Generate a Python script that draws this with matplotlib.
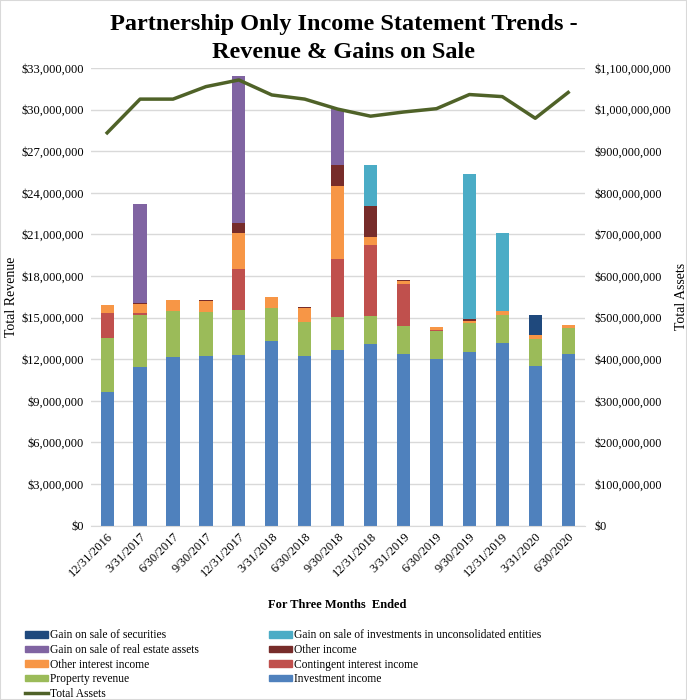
import matplotlib.pyplot as plt
from matplotlib.ticker import FuncFormatter, MultipleLocator
from matplotlib.patches import Patch
from matplotlib.lines import Line2D
import numpy as np

plt.rcParams['font.family'] = ['Liberation Serif', 'DejaVu Serif']

quarters = ['12/31/2016', '3/31/2017', '6/30/2017', '9/30/2017', '12/31/2017',
            '3/31/2018', '6/30/2018', '9/30/2018', '12/31/2018', '3/31/2019',
            '6/30/2019', '9/30/2019', '12/31/2019', '3/31/2020', '6/30/2020']

# revenue components, in $ millions (stacked bottom to top)
investment_income = [9.64, 11.45, 12.18, 12.25, 12.32, 13.34, 12.25, 12.69, 13.12, 12.40, 12.03, 12.54, 13.15, 11.53, 12.40]
property_revenue = [3.92, 3.73, 3.27, 3.17, 3.20, 2.33, 2.40, 2.32, 2.03, 1.99, 2.03, 2.06, 2.03, 1.91, 1.86]
contingent_interest = [1.74, 0.12, 0.05, 0.0, 2.98, 0.0, 0.0, 4.21, 5.08, 3.03, 0.05, 0.0, 0.0, 0.0, 0.0]
other_interest = [0.58, 0.66, 0.75, 0.75, 2.61, 0.79, 1.04, 5.26, 0.58, 0.22, 0.22, 0.15, 0.27, 0.29, 0.20]
other_income = [0.0, 0.07, 0.0, 0.08, 0.73, 0.0, 0.07, 1.50, 2.25, 0.07, 0.0, 0.14, 0.0, 0.0, 0.0]
gain_real_estate = [0.0, 7.19, 0.0, 0.0, 10.61, 0.0, 0.0, 4.04, 0.0, 0.0, 0.0, 0.0, 0.0, 0.0, 0.0]
gain_unconsolidated = [0.0, 0.0, 0.0, 0.0, 0.0, 0.0, 0.0, 0.0, 2.91, 0.0, 0.0, 10.44, 5.66, 0.0, 0.0]
gain_securities = [0.0, 0.0, 0.0, 0.0, 0.0, 0.0, 0.0, 0.0, 0.0, 0.0, 0.0, 0.0, 0.0, 1.43, 0.0]

# total assets, in $ millions
total_assets = [944, 1025, 1025, 1055, 1071, 1035, 1025, 1001, 984, 994, 1002, 1036, 1031, 979, 1041]

series = [
    ('Investment income', investment_income, '#4F81BD'),
    ('Property revenue', property_revenue, '#9BBB59'),
    ('Contingent interest income', contingent_interest, '#C0504D'),
    ('Other interest income', other_interest, '#F79646'),
    ('Other income', other_income, '#772C2A'),
    ('Gain on sale of real estate assets', gain_real_estate, '#8064A2'),
    ('Gain on sale of investments in unconsolidated entities', gain_unconsolidated, '#4BACC6'),
    ('Gain on sale of securities', gain_securities, '#1F497D'),
]
colors = {name: c for name, _, c in series}

fig = plt.figure(figsize=(6.87, 7.0), dpi=100)
ax = fig.add_axes([0.132, 0.249, 0.719, 0.654])
x = np.arange(len(quarters))
bottom = np.zeros(len(quarters))
for name, vals, c in series:
    v = np.array(vals) * 1e6
    ax.bar(x, v, 0.4, bottom=bottom, color=c, zorder=2)
    bottom += v

money = FuncFormatter(lambda v, p: '${:,.0f}'.format(v))
ax.set_ylim(0, 33e6)
ax.set_xlim(-0.5, len(quarters) - 0.5)
ax.yaxis.set_major_locator(MultipleLocator(3e6))
ax.yaxis.set_major_formatter(money)
ax.grid(axis='y', color='#D9D9D9', linewidth=1, zorder=0)
ax.set_axisbelow(True)
for s in ['top', 'left', 'right']:
    ax.spines[s].set_visible(False)
ax.spines['bottom'].set_color('#D9D9D9')
ax.tick_params(axis='both', length=0, labelsize=9)
ax.tick_params(axis='y', pad=5)
ax.set_xticks(x)
ax.set_xticklabels(quarters, rotation=45, ha='right', rotation_mode='anchor')
ax.set_ylabel('Total Revenue', fontsize=10, labelpad=2)
ax.set_xlabel('For Three Months  Ended', fontsize=9, fontweight='bold', labelpad=14)

ax2 = ax.twinx()
ax2.plot(x, np.array(total_assets) * 1e6, color='#4F6228', linewidth=2.5, zorder=3)
ax2.set_ylim(0, 1.1e9)
ax2.yaxis.set_major_locator(MultipleLocator(1e8))
ax2.yaxis.set_major_formatter(money)
for s in ['top', 'left', 'right', 'bottom']:
    ax2.spines[s].set_visible(False)
ax2.tick_params(axis='y', length=0, labelsize=8.7, pad=7)
ax2.set_ylabel('Total Assets', fontsize=10, labelpad=3)

fig.suptitle('Partnership Only Income Statement Trends -\nRevenue & Gains on Sale',
             fontsize=17.5, fontweight='bold', y=0.98, linespacing=1.45)

order = ['Gain on sale of securities', 'Gain on sale of real estate assets',
         'Other interest income', 'Property revenue', None,
         'Gain on sale of investments in unconsolidated entities', 'Other income',
         'Contingent interest income', 'Investment income']
handles, labels = [], []
for name in order:
    if name is None:
        handles.append(Line2D([], [], color='#4F6228', linewidth=2.5))
        labels.append('Total Assets')
    else:
        handles.append(Patch(color=colors[name]))
        labels.append(name)
leg = fig.legend(handles, labels, ncol=2, loc='lower left', bbox_to_anchor=(0.03, -0.006),
                 frameon=False, fontsize=8.3, handlelength=2.0, handleheight=0.5,
                 handletextpad=0.15, labelspacing=0.22, columnspacing=6.1, borderaxespad=0)

fig.patches.append(plt.Rectangle((0, 0), 1, 1, transform=fig.transFigure,
                                 fill=False, edgecolor='#D9D9D9', linewidth=1.5))
fig.savefig('out.png', dpi=100)
